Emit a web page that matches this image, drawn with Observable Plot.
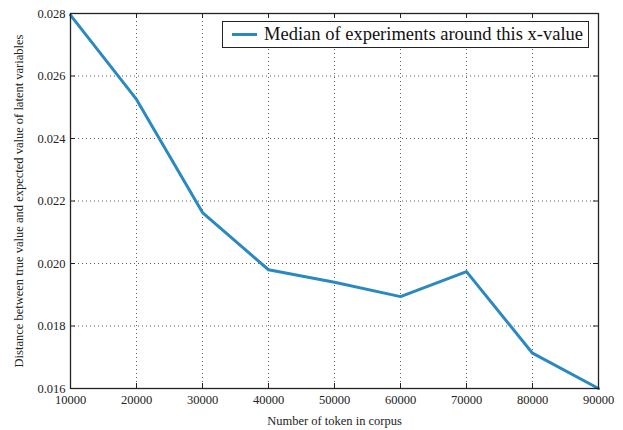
<!DOCTYPE html>
<html>
<head>
<meta charset="utf-8">
<script src="https://cdn.jsdelivr.net/npm/d3@7"></script>
<script src="https://cdn.jsdelivr.net/npm/@observablehq/plot@0.6"></script>
<style>
  html, body { margin: 0; padding: 0; background: #fff; }
  #wrap { position: relative; width: 623px; height: 430px; }
  #wrap svg, #wrap svg text { font-family: "Liberation Serif", "DejaVu Serif", serif !important; }
  #legend {
    position: absolute; left: 222px; top: 21px; width: 367px; height: 27px;
    border: 1px solid #222; background: #fff; box-sizing: border-box;
    font-family: "Liberation Serif", "DejaVu Serif", serif; font-size: 18.5px; color: #111;
    display: flex; align-items: center; white-space: nowrap;
  }
  #legend .sw { display: inline-block; width: 25px; height: 3px; background: #2a89c0; margin: 0 7px 0 9px; }
</style>
</head>
<body>
<div id="wrap"></div>
<script>
const tokens = [10000, 20000, 30000, 40000, 50000, 60000, 70000, 80000, 90000];
const medianDistance = [0.02795, 0.02525, 0.02163, 0.01980, 0.01940, 0.01894, 0.01974, 0.01713, 0.01600];
const xTicks = [10000, 20000, 30000, 40000, 50000, 60000, 70000, 80000, 90000];
const yTicks = [0.016, 0.018, 0.020, 0.022, 0.024, 0.026, 0.028];
const seriesLabel = "Median of experiments around this x-value";
const xLabel = "Number of token in corpus";
const yLabel = "Distance between true value and expected value of latent variables";

const data = tokens.map((t, i) => ({tokens: t, value: medianDistance[i]}));

const W = 623, H = 430, mL = 70, mR = 25, mT = 13, mB = 42;
const innerW = W - mL - mR, innerH = H - mT - mB;
const lineColor = "#2a89c0";
const tick = 5;
const serif = "'Liberation Serif', 'DejaVu Serif', serif";

const chart = Plot.plot({
  width: W, height: H,
  marginLeft: mL, marginRight: mR, marginTop: mT, marginBottom: mB,
  style: {fontFamily: serif, fontSize: "12.5px", color: "#222", background: "#fff"},
  x: {domain: [10000, 90000]},
  y: {domain: [0.016, 0.028]},
  marks: [
    Plot.gridX(xTicks, {stroke: "#333", strokeOpacity: 0.8, strokeDasharray: "1,3"}),
    Plot.gridY(yTicks, {stroke: "#333", strokeOpacity: 0.8, strokeDasharray: "1,3"}),
    Plot.tickX(xTicks, {x: d => d, insetTop: innerH - tick, stroke: "#222"}),
    Plot.tickX(xTicks, {x: d => d, insetBottom: innerH - tick, stroke: "#222"}),
    Plot.tickY(yTicks, {y: d => d, insetRight: innerW - tick, stroke: "#222"}),
    Plot.tickY(yTicks, {y: d => d, insetLeft: innerW - tick, stroke: "#222"}),
    Plot.axisX(xTicks, {tickSize: 0, tickPadding: 7, tickFormat: d => String(d), label: xLabel, labelAnchor: "center", labelArrow: "none", labelOffset: 36, fontSize: 12.5, fontFamily: serif}),
    Plot.axisY(yTicks, {tickSize: 0, tickPadding: 5, tickFormat: d => d.toFixed(3), label: yLabel, labelAnchor: "center", labelArrow: "none", labelOffset: 56, fontSize: 12.5, fontFamily: serif}),
    Plot.line(data, {x: "tokens", y: "value", stroke: lineColor, strokeWidth: 3}),
    Plot.frame({stroke: "#222", strokeWidth: 1.3})
  ]
});

const wrap = document.getElementById("wrap");
wrap.appendChild(chart);
const leg = document.createElement("div");
leg.id = "legend";
leg.innerHTML = `<span class="sw"></span><span>${seriesLabel}</span>`;
wrap.appendChild(leg);
</script>
</body>
</html>
